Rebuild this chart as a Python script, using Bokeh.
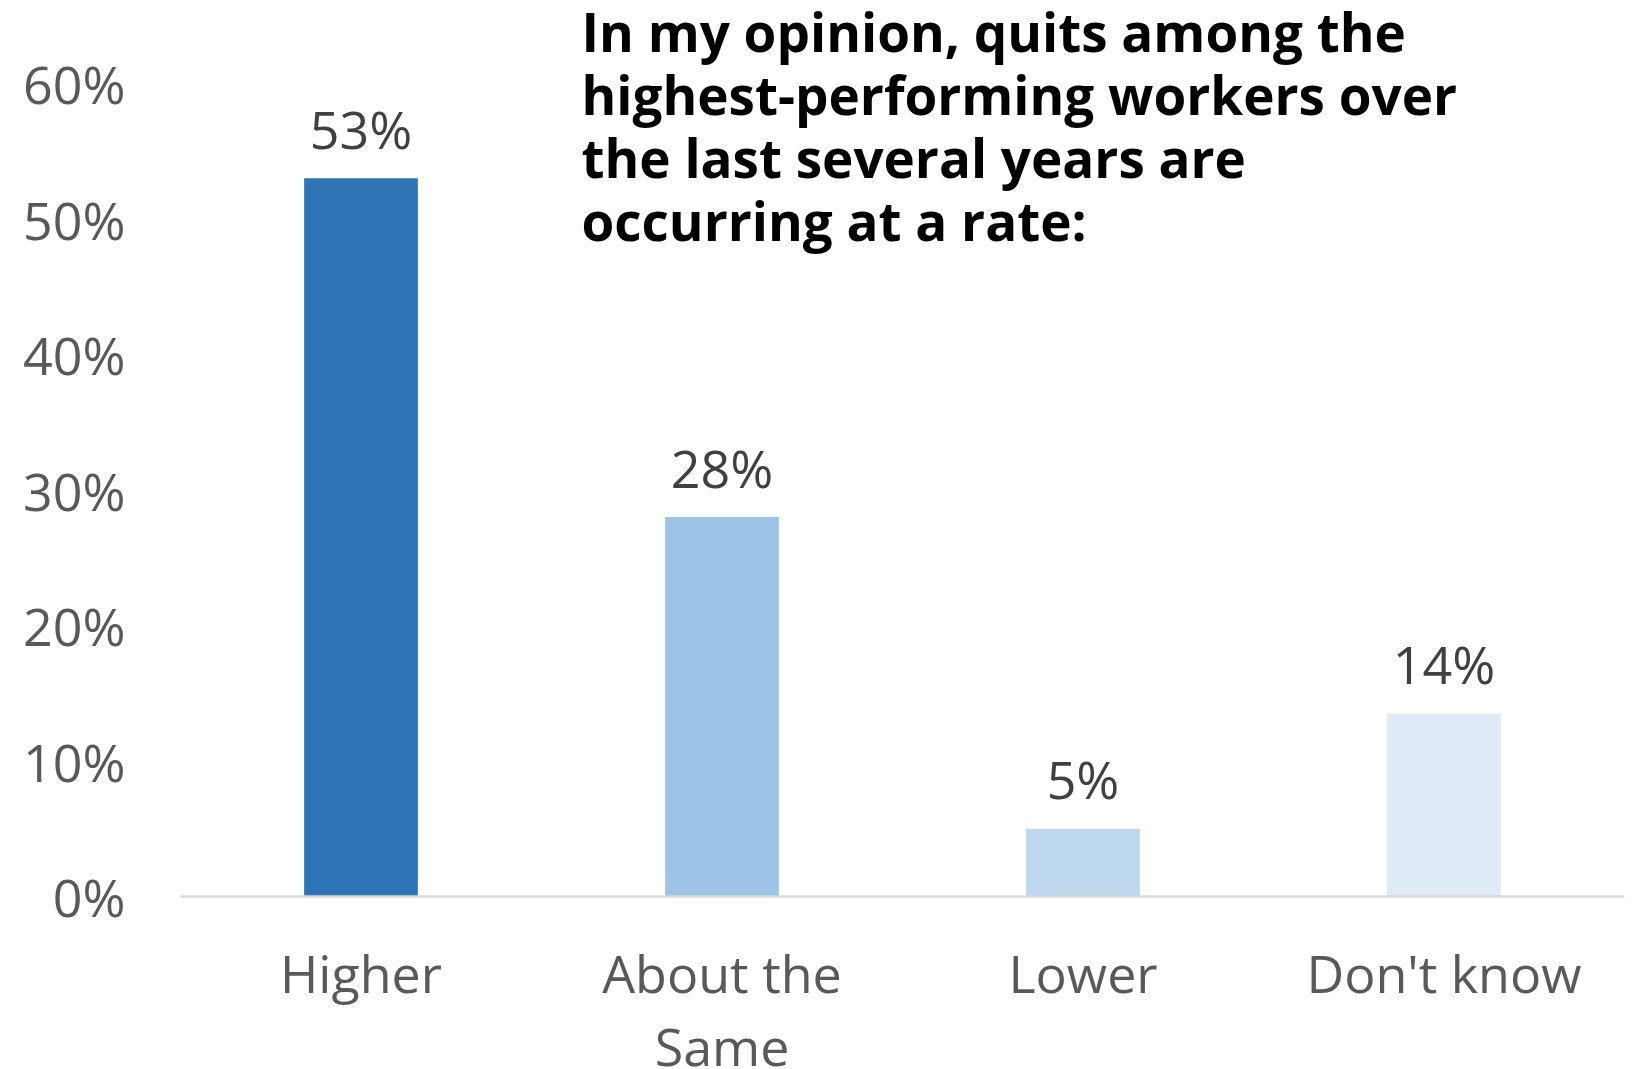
from bokeh.plotting import figure
from bokeh.models import ColumnDataSource, FactorRange, Range1d, Label, Span, PrintfTickFormatter, FixedTicker
from bokeh.core.properties import value
from bokeh.embed import file_html
from bokeh.resources import INLINE

categories = ["Higher", "About the\nSame", "Lower", "Don't know"]
values = [53, 28, 5, 13.5]
value_labels = ["53%", "28%", "5%", "14%"]
colors = ["#2E75B6", "#9DC3E6", "#BDD7EE", "#DEEBF7"]
y_ticks = [0, 10, 20, 30, 40, 50, 60]
title_lines = [
    "In my opinion, quits among the",
    "highest-performing workers over",
    "the last several years are",
    "occurring at a rate:",
]

W, H = 1638, 1069
frame_left, frame_right_pad = 180, 14
zero_px = 896          # screen y of the 0% baseline
px_per_unit = 13.55
base_fix = 20          # compensation for alphabetic baseline placement
fs = "52px"

src = ColumnDataSource(dict(cat=categories, val=values, lab=value_labels, col=colors))

# category label lines (split multi-line categories)
cat_x, cat_txt, cat_off = [], [], []
cat_baselines = [992, 1065]
for cat in categories:
    for j, line in enumerate(cat.split("\n")):
        cat_x.append(cat)
        cat_txt.append(line)
        cat_off.append(cat_baselines[j] - zero_px - base_fix)
cat_src = ColumnDataSource(dict(x=cat_x, y=[0] * len(cat_x), t=cat_txt, off=cat_off))

p = figure(width=W, height=H, x_range=FactorRange(factors=categories, range_padding=0),
           y_range=Range1d(-(H - zero_px) / px_per_unit, zero_px / px_per_unit),
           output_backend="svg", toolbar_location=None,
           min_border_left=frame_left, min_border_right=frame_right_pad,
           min_border_top=0, min_border_bottom=0)
p.outline_line_color = None
p.xgrid.grid_line_color = None
p.ygrid.grid_line_color = None
p.background_fill_color = "white"
p.border_fill_color = "white"
p.xaxis.visible = False

p.add_layout(Span(location=0, dimension="width", line_color="#D9D9D9", line_width=2.5))

p.vbar(x="cat", top="val", bottom=0, width=0.315, color="col", line_color=None, source=src)
p.text(x="cat", y="val", text="lab", source=src, text_align="center", text_baseline="alphabetic",
       y_offset=-30 - base_fix, text_font=value("Open Sans"), text_font_size=fs,
       text_color="#404040")

p.text(x="x", y="y", text="t", y_offset="off", source=cat_src, text_align="center",
       text_baseline="alphabetic", text_font=value("Open Sans"), text_font_size=fs,
       text_color="#595959")

p.yaxis.ticker = FixedTicker(ticks=y_ticks)
p.yaxis.formatter = PrintfTickFormatter(format="%d%%")
p.yaxis.axis_line_color = None
p.yaxis.major_tick_line_color = None
p.yaxis.minor_tick_line_color = None
p.yaxis.major_label_standoff = 49
p.yaxis.major_label_text_font = "Open Sans"
p.yaxis.major_label_text_font_size = fs
p.yaxis.major_label_text_color = "#595959"

title_x = (581 - frame_left) / ((W - frame_left - frame_right_pad) / len(categories))
baselines = [51, 114, 177, 240]
for line, sy in zip(title_lines, baselines):
    p.add_layout(Label(x=title_x, y=(zero_px - (sy - base_fix)) / px_per_unit, text=line,
                       text_font="Open Sans", text_font_style="bold", text_font_size="53px",
                       text_color="#000000", text_baseline="alphabetic", text_align="left"))

open("out.html", "w").write(file_html(p, INLINE))
